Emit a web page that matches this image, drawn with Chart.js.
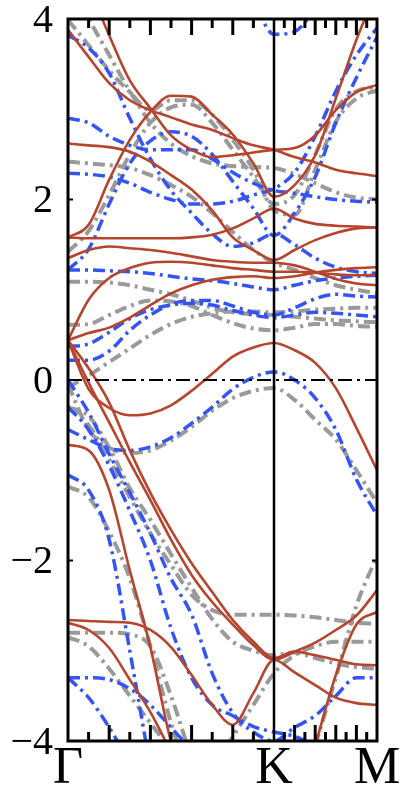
<!DOCTYPE html>
<html>
<head>
<meta charset="utf-8">
<script src="https://cdn.jsdelivr.net/npm/chart.js@4"></script>
<style>
  html, body { margin: 0; padding: 0; background: #fff; }
  #wrap { width: 400px; height: 786px; }
</style>
</head>
<body>
<div id="wrap"><canvas id="bands" width="400" height="786"></canvas></div>
<script>
// k-path sampling: Γ = 0, K = 1, M = 1.5
const kPoints = [0, 0.1, 0.2, 0.3, 0.4, 0.5, 0.6, 0.7, 0.8, 0.9, 1.0, 1.1, 1.2, 1.3, 1.4, 1.5];
const kTickValues = [0, 1, 1.5];
const kTickLabels = ['Γ', 'K', 'M'];
const minorTicksGK = [0.1, 0.2, 0.3, 0.4, 0.5, 0.6, 0.7, 0.8, 0.9];
const minorTicksKM = [1.05, 1.1, 1.15, 1.2, 1.25, 1.3, 1.35, 1.4, 1.45];
const energyTicks = [-4, -2, 0, 2, 4];

// bandas rojas (línea continua)
const redBands = [
  [3.88, 3.58, 3.29, 3.10, 2.99, 2.91, 2.83, 2.77, 2.68, 2.60, 2.55, 2.47, 2.41, 2.33, 2.29, 2.26],
  [5.10, 4.38, 3.82, 3.32, 3.01, 2.71, 2.55, 2.47, 2.49, 2.52, 2.55, 2.57, 2.71, 2.99, 3.19, 3.27],
  [1.58, 1.72, 2.22, 2.66, 2.97, 3.15, 3.14, 2.94, 2.72, 2.40, 2.03, 2.16, 2.49, 3.12, 3.77, 4.32],
  [2.62, 2.60, 2.58, 2.53, 2.42, 2.27, 2.11, 1.88, 1.58, 1.44, 1.33, 1.44, 1.55, 1.63, 1.68, 1.69],
  [1.58, 1.57, 1.57, 1.57, 1.57, 1.57, 1.58, 1.61, 1.68, 1.79, 1.90, 1.79, 1.73, 1.71, 1.70, 1.69],
  [1.35, 1.44, 1.48, 1.46, 1.44, 1.41, 1.37, 1.33, 1.31, 1.30, 1.30, 1.27, 1.20, 1.12, 1.07, 1.05],
  [0.44, 0.89, 1.13, 1.24, 1.30, 1.31, 1.30, 1.27, 1.24, 1.22, 1.20, 1.20, 1.19, 1.17, 1.16, 1.16],
  [0.44, 0.52, 0.58, 0.69, 0.83, 0.96, 1.05, 1.11, 1.14, 1.15, 1.13, 1.15, 1.19, 1.22, 1.24, 1.25],
  [0.44, -0.10, -0.31, -0.39, -0.37, -0.28, -0.12, 0.07, 0.26, 0.36, 0.41, 0.33, 0.19, -0.09, -0.53, -1.00],
  [0.44, -0.03, -0.47, -0.91, -1.33, -1.77, -2.16, -2.46, -2.71, -2.94, -3.10, -3.01, -2.91, -2.77, -2.61, -2.33],
  [0.44, 0.13, -0.25, -0.78, -1.25, -1.66, -2.03, -2.35, -2.66, -2.90, -3.08, -3.01, -3.05, -3.10, -3.15, -3.16],
  [-0.72, -0.78, -1.22, -2.11, -2.96, -4.01, -4.65, null, null, null, null, null, null, null, null, null],
  [-2.66, -2.67, -2.68, -2.69, -2.77, -2.96, -3.27, -3.60, -3.82, -3.47, -3.10, -3.24, -3.38, -3.52, -3.58, -3.60],
  [-2.69, -2.77, -2.97, -3.32, -3.68, -4.12, null, null, null, null, null, null, null, null, null, null],
  [null, null, null, null, null, null, null, null, null, null, null, null, -4.05, -3.27, -2.71, -2.57]
];

// bandas grises (raya-punto)
const grayBands = [
  [3.99, 3.71, 3.43, 3.19, 2.99, 3.10, 3.10, 2.94, 2.66, 2.33, 1.88, 1.83, 2.33, 2.86, 3.12, 3.21],
  [2.42, 2.40, 2.38, 2.35, 2.27, 2.16, 2.03, 1.85, 1.64, 1.44, 1.30, 1.22, 1.13, 1.05, 1.00, 0.96],
  [4.40, 4.00, 3.60, 3.20, 2.85, 2.62, 2.48, 2.40, 2.37, 2.36, 2.35, 2.28, 2.18, 2.08, 2.02, 2.00],
  [1.42, 1.65, 2.05, 2.50, 2.85, 3.02, 3.05, 2.85, 2.55, 2.25, 1.95, 2.05, 2.50, 3.00, 3.20, 3.25],
  [1.09, 1.09, 1.08, 1.05, 1.00, 0.95, 0.88, 0.80, 0.75, 0.73, 0.72, 0.70, 0.68, 0.66, 0.65, 0.64],
  [0.61, 0.62, 0.72, 0.82, 0.88, 0.87, 0.82, 0.72, 0.63, 0.57, 0.55, 0.58, 0.62, 0.62, 0.60, 0.59],
  [-0.05, -0.55, -0.75, -0.81, -0.78, -0.67, -0.52, -0.34, -0.20, -0.12, -0.09, -0.22, -0.44, -0.66, -1.00, -1.36],
  [-0.08, 0.05, 0.20, 0.35, 0.50, 0.62, 0.70, 0.74, 0.76, 0.76, 0.75, 0.76, 0.78, 0.79, 0.80, 0.80],
  [-0.30, -0.50, -0.88, -1.30, -1.70, -2.05, -2.38, -2.55, -2.60, -2.60, -2.60, -2.61, -2.63, -2.66, -2.69, -2.70],
  [-0.30, -0.40, -0.75, -1.20, -1.55, -1.93, -2.30, -2.65, -2.90, -3.00, -3.05, -3.02, -3.08, -3.14, -3.18, -3.20],
  [-1.18, -1.30, -1.68, -2.20, -2.95, -3.80, -4.50, null, null, null, null, null, null, null, null, null],
  [-2.80, -2.80, -2.80, -2.82, -2.95, -3.50, -4.20, null, null, null, null, null, null, null, null, null],
  [-2.85, -2.95, -3.20, -3.50, -3.80, -4.10, null, null, null, null, null, null, null, null, null, null],
  [null, null, null, null, null, null, null, -4.30, -3.95, -3.60, -3.25, -3.05, -2.95, -2.90, -2.90, -2.90],
  [null, null, null, null, null, null, null, null, null, null, null, null, -4.05, -3.30, -2.50, -1.95]
];

// bandas azules (raya-punto)
const blueBands = [
  [3.82, 3.68, 3.40, 2.90, 2.45, 2.10, 1.85, 1.62, 1.48, 1.52, 1.62, 1.50, 1.35, 1.25, 1.20, 1.18],
  [2.90, 2.85, 2.70, 2.60, 2.55, 2.55, 2.55, 2.45, 2.30, 2.18, 2.10, 2.07, 2.03, 2.00, 1.98, 1.97],
  [2.29, 2.28, 2.25, 2.18, 2.08, 2.00, 1.95, 1.95, 1.98, 2.05, 2.12, 2.30, 2.70, 3.20, 3.60, 3.90],
  [null, null, null, null, null, null, null, null, 4.60, 4.20, 3.83, 3.86, 4.10, null, null, null],
  [1.22, 1.45, 1.95, 2.40, 2.65, 2.75, 2.70, 2.50, 2.20, 1.90, 1.60, 1.85, 2.25, 2.85, 3.35, 3.80],
  [1.22, 1.22, 1.21, 1.20, 1.18, 1.15, 1.12, 1.10, 1.07, 1.03, 1.00, 1.05, 1.10, 1.13, 1.15, 1.16],
  [0.37, 0.40, 0.53, 0.68, 0.78, 0.83, 0.85, 0.83, 0.77, 0.72, 0.69, 0.72, 0.75, 0.74, 0.72, 0.70],
  [0.22, 0.22, 0.32, 0.55, 0.72, 0.84, 0.88, 0.88, 0.82, 0.75, 0.72, 0.80, 0.90, 0.95, 0.93, 0.92],
  [-0.55, -0.66, -0.76, -0.78, -0.74, -0.64, -0.48, -0.30, -0.10, 0.03, 0.09, 0.00, -0.20, -0.55, -1.10, -1.50],
  [0.00, -0.36, -0.82, -1.25, -1.70, -2.20, -2.60, -3.25, -3.69, -3.90, -4.00, -3.85, -3.72, -3.50, -3.30, -3.30],
  [-0.30, -0.55, -0.95, -1.45, -2.00, -2.75, -3.30, -3.60, -3.72, -3.84, -3.90, -3.95, -4.05, null, null, null],
  [-1.05, -1.22, -1.77, -3.00, -4.30, null, null, null, null, null, null, null, null, null, null, null],
  [-3.30, -3.30, -3.32, -3.42, -3.60, -3.85, -4.10, null, null, null, null, null, null, null, null, null],
  [-3.30, -3.52, -3.85, -4.25, null, null, null, null, null, null, null, null, null, null, null, null]
];

const RED = '#b5452c';
const GRAY = '#9a9a9a';
const BLUE = '#3554f5';
const SERIF = '"Liberation Serif", "Times New Roman", serif';

function toPoints(values) {
    return kPoints.map((k, i) => ({ x: k, y: values[i] }));
}

function makeSets(list, color, width, dash, order) {
    return list.map(values => ({
        data: toPoints(values),
        borderColor: color,
        borderWidth: width,
        borderDash: dash,
        borderCapStyle: 'butt',
        pointRadius: 0,
        fill: false,
        spanGaps: false,
        cubicInterpolationMode: 'monotone',
        order: order
    }));
}

// marco, ticks interiores, línea K, línea de cero y etiquetas
const framePlugin = {
    id: 'frame',
    afterDatasetsDraw(chart) {
        const { ctx, chartArea: a, scales: { x, y } } = chart;
        ctx.save();
        ctx.strokeStyle = '#000';

        // línea del nivel de Fermi
        const y0 = y.getPixelForValue(0);
        ctx.lineWidth = 2;
        ctx.setLineDash([14, 5, 3, 5]);
        ctx.beginPath();
        ctx.moveTo(a.left, y0);
        ctx.lineTo(a.right, y0);
        ctx.stroke();
        ctx.setLineDash([]);

        // línea vertical en K
        const xk = x.getPixelForValue(1);
        ctx.lineWidth = 2.5;
        ctx.beginPath();
        ctx.moveTo(xk, a.top);
        ctx.lineTo(xk, a.bottom);
        ctx.stroke();

        // ticks menores arriba y abajo
        ctx.lineWidth = 3;
        const drawTick = (k, long) => {
            const px = x.getPixelForValue(k);
            const len = long ? 16 : 9;
            ctx.beginPath();
            ctx.moveTo(px, a.top);
            ctx.lineTo(px, a.top + len);
            ctx.moveTo(px, a.bottom);
            ctx.lineTo(px, a.bottom - len);
            ctx.stroke();
        };
        minorTicksGK.forEach((k, i) => drawTick(k, i % 2 === 1));
        minorTicksKM.forEach((k, i) => drawTick(k, i % 2 === 1));

        // ticks de energía
        ctx.lineWidth = 2;
        energyTicks.slice(1, -1).forEach(e => {
            const py = y.getPixelForValue(e);
            ctx.beginPath();
            ctx.moveTo(a.left, py);
            ctx.lineTo(a.left + 5, py);
            ctx.moveTo(a.right, py);
            ctx.lineTo(a.right - 5, py);
            ctx.stroke();
        });

        // marco
        ctx.lineWidth = 3;
        ctx.strokeRect(a.left, a.top, a.right - a.left, a.bottom - a.top);

        // etiquetas de energía
        ctx.fillStyle = '#000';
        ctx.font = '40px ' + SERIF;
        ctx.textAlign = 'right';
        ctx.textBaseline = 'middle';
        energyTicks.forEach(e => {
            const label = e < 0 ? '\u2212' + Math.abs(e) : String(e);
            ctx.fillText(label, a.left - 15, y.getPixelForValue(e) + 2);
        });

        // etiquetas del camino k
        ctx.font = '52px ' + SERIF;
        ctx.textAlign = 'center';
        ctx.textBaseline = 'alphabetic';
        kTickValues.forEach((k, i) => {
            ctx.fillText(kTickLabels[i], x.getPixelForValue(k), a.bottom + 42);
        });
        ctx.restore();
    }
};

const chart = new Chart(document.getElementById('bands'), {
    type: 'line',
    data: {
        datasets: [
            ...makeSets(grayBands, GRAY, 4, [12, 5, 3, 5], 3),
            ...makeSets(blueBands, BLUE, 3.5, [12, 5, 3, 5], 2),
            ...makeSets(redBands, RED, 2.6, [], 1)
        ]
    },
    options: {
        responsive: false,
        animation: false,
        layout: { padding: { top: 19, right: 23, bottom: 45, left: 68 } },
        plugins: {
            legend: { display: false },
            tooltip: { enabled: false }
        },
        scales: {
            x: { type: 'linear', min: 0, max: 1.5, display: false },
            y: { min: -4, max: 4, display: false }
        }
    },
    plugins: [framePlugin]
});
</script>
</body>
</html>
